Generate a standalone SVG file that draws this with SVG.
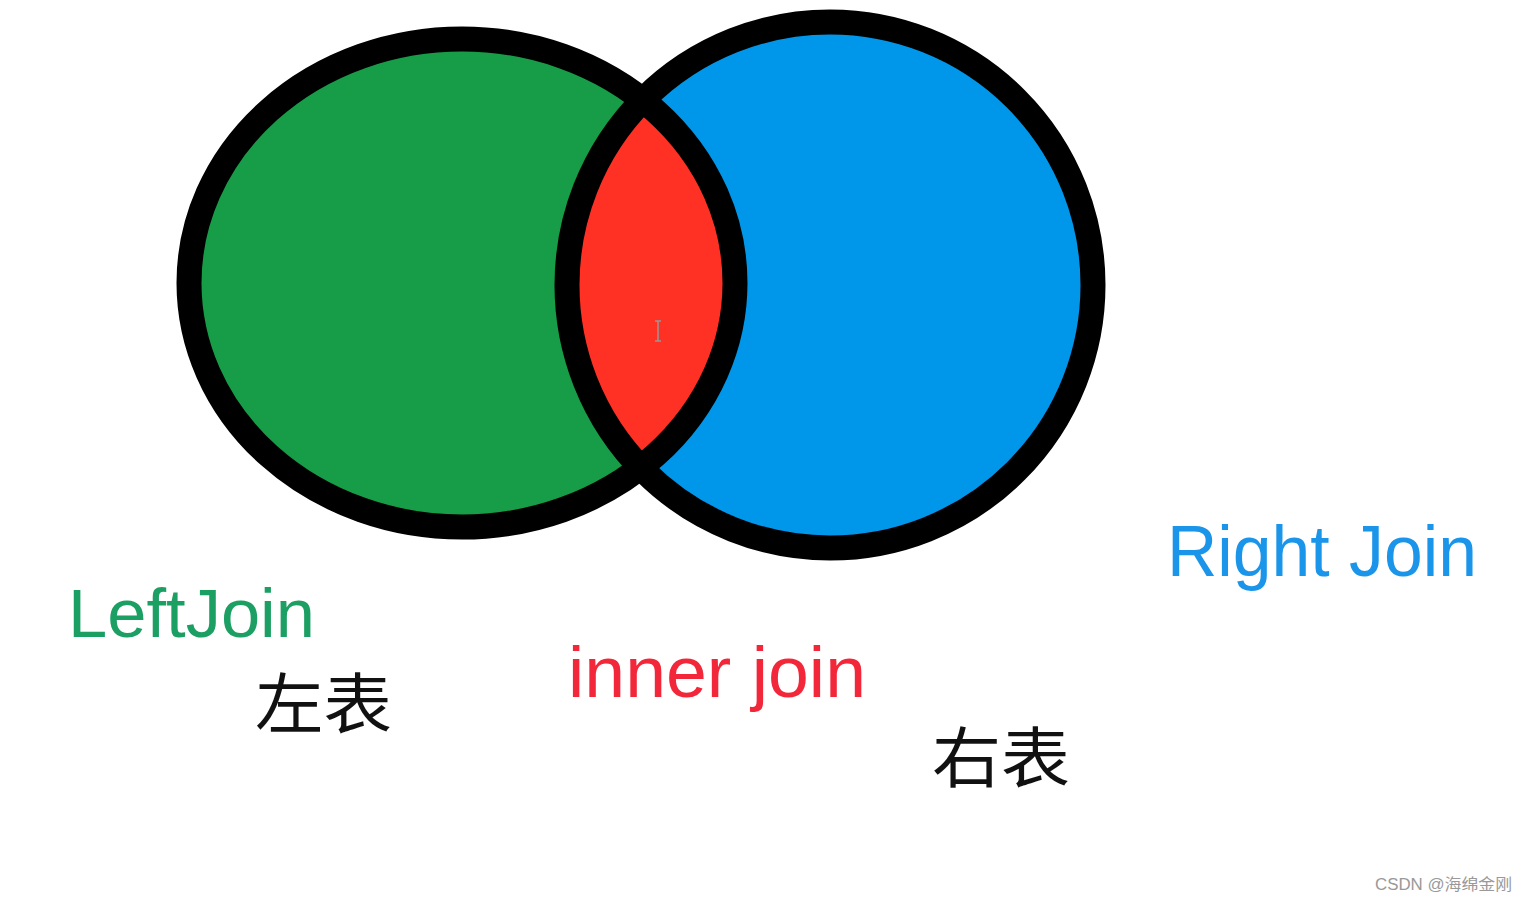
<svg xmlns="http://www.w3.org/2000/svg" width="1526" height="902" viewBox="0 0 1526 902">
<style>
.lbl{font-family:"Segoe UI","Liberation Sans","Noto Sans CJK SC",sans-serif;}
.cjk{font-family:"Noto Sans CJK SC","Liberation Sans",sans-serif;fill:#111;}
.ring{fill:none;stroke:#000;stroke-width:25;}
</style>
<defs>
<clipPath id="clipRight"><ellipse cx="830" cy="285" rx="263" ry="263"/></clipPath>
</defs>
<rect width="1526" height="902" fill="#fff"/>
<g id="left-table">
<ellipse cx="462" cy="283" rx="273" ry="244" fill="#179C47"/>
</g>
<g id="right-table">
<ellipse cx="830" cy="285" rx="263" ry="263" fill="#0096EA"/>
</g>
<g id="inner">
<ellipse cx="462" cy="283" rx="273" ry="244" fill="#FF3125" clip-path="url(#clipRight)"/>
<g stroke="#999" stroke-width="1.5" fill="none">
<line x1="658" y1="321" x2="658" y2="341"/>
<line x1="655" y1="321" x2="661" y2="321"/>
<line x1="655" y1="341" x2="661" y2="341"/>
</g>
</g>
<g id="outlines">
<ellipse class="ring" cx="462" cy="283" rx="273" ry="244"/>
<ellipse class="ring" cx="830" cy="285" rx="263" ry="263"/>
</g>
<g id="connectors"/>
<g id="label-left">
<text class="lbl" x="68" y="637" font-size="68" fill="#1C9F63" textLength="247" lengthAdjust="spacingAndGlyphs">LeftJoin</text>
<text class="cjk" x="255" y="728" font-size="66" textLength="137" lengthAdjust="spacingAndGlyphs">左表</text>
</g>
<g id="label-inner">
<text class="lbl" x="568" y="697" font-size="72" fill="#F2283A" textLength="298" lengthAdjust="spacingAndGlyphs">inner join</text>
</g>
<g id="label-right">
<text class="lbl" x="1167" y="576" font-size="72" fill="#1A95EA" textLength="310" lengthAdjust="spacingAndGlyphs">Right Join</text>
<text class="cjk" x="932" y="782" font-size="66" textLength="138" lengthAdjust="spacingAndGlyphs">右表</text>
</g>
<g id="watermark">
<text x="1375" y="890" font-size="16" fill="#999" font-family="'Liberation Sans','Noto Sans CJK SC',sans-serif" textLength="137" lengthAdjust="spacingAndGlyphs">CSDN @海绵金刚</text>
</g>
</svg>
